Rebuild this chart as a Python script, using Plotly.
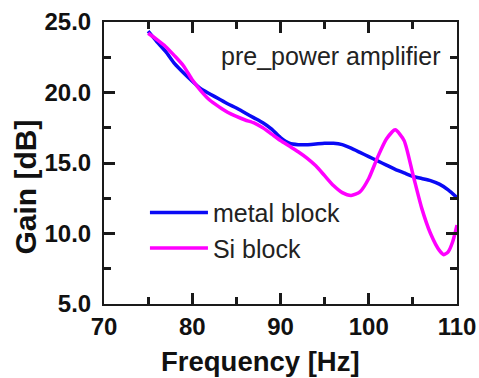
import plotly.graph_objects as go

freq_metal = [75, 76, 77, 78, 79, 80, 81, 82, 83, 84, 85, 86, 87, 88, 89, 90, 91, 92, 93, 94,
              95, 96, 97, 98, 99, 100, 101, 102, 103, 104, 105, 106, 107, 108, 109, 110]
gain_metal = [24.35, 23.6, 22.9, 22.05, 21.4, 20.8, 20.25, 19.9, 19.55, 19.2, 18.9, 18.55, 18.2,
              17.85, 17.4, 16.8, 16.4, 16.3, 16.3, 16.35, 16.4, 16.4, 16.3, 16.05, 15.75, 15.45,
              15.15, 14.85, 14.55, 14.3, 14.05, 13.9, 13.75, 13.5, 13.1, 12.55]

freq_si = [75, 76, 77, 78, 79, 80, 81, 82, 83, 84, 85, 86, 87, 88, 89, 90, 91, 92, 93, 94, 95,
           96, 97, 98, 99, 100, 101, 102, 103, 104, 105, 106, 107, 108, 108.5, 109, 109.5, 110]
gain_si = [24.2, 23.75, 23.25, 22.6, 21.9, 20.9, 20.1, 19.45, 19.0, 18.6, 18.3, 18.05, 17.85,
           17.5, 17.05, 16.6, 16.2, 15.8, 15.35, 14.8, 14.1, 13.4, 12.9, 12.7, 12.95, 13.9, 15.4,
           16.7, 17.35, 16.6, 14.2, 11.8, 10.0, 8.8, 8.5, 8.7, 9.4, 10.6]

x_ticks = [70, 80, 90, 100, 110]
y_ticks = [5, 10, 15, 20, 25]

FONT = "Arial, Liberation Sans, sans-serif"
INK = "#1a1a1a"
TXT = "#111"

fig = go.Figure()
fig.add_trace(go.Scatter(x=freq_metal, y=gain_metal, mode="lines", name="metal block",
                         line=dict(color="#0a0af5", width=3.5, shape="spline", smoothing=0.6)))
fig.add_trace(go.Scatter(x=freq_si, y=gain_si, mode="lines", name="Si block",
                         line=dict(color="#ff00ff", width=3.5, shape="spline", smoothing=0.6)))

fig.update_xaxes(
    range=[x_ticks[0], x_ticks[-1]], tickmode="array", tickvals=x_ticks, automargin=False,
    showline=True, linecolor=INK, linewidth=2, mirror="allticks",
    ticks="inside", ticklen=11, tickwidth=2.5, tickcolor=INK,
    showgrid=False, zeroline=False,
    tickfont=dict(family=FONT, size=24, color=TXT, weight="bold"),
    minor=dict(ticks="inside", tickvals=[75, 85, 95, 105], ticklen=7, tickwidth=2.5,
               tickcolor=INK, showgrid=False),
)
fig.update_yaxes(
    range=[y_ticks[0], y_ticks[-1]], tickmode="array", tickvals=y_ticks, tickformat=".1f",
    automargin=False, showline=True, linecolor=INK, linewidth=2, mirror="allticks",
    ticks="inside", ticklen=11, tickwidth=2.5, tickcolor=INK,
    showgrid=False, zeroline=False, ticklabelstandoff=6,
    tickfont=dict(family=FONT, size=24, color=TXT, weight="bold"),
    minor=dict(ticks="inside", tickvals=[7.5, 12.5, 17.5, 22.5], ticklen=7, tickwidth=2.5,
               tickcolor=INK, showgrid=False),
)

# axis titles
fig.add_annotation(x=0.442, y=-0.205, xref="paper", yref="paper", xanchor="center",
                   yanchor="middle", text="Frequency [Hz]", showarrow=False,
                   font=dict(family=FONT, size=27.5, color=TXT, weight="bold"))
fig.add_annotation(x=-0.222, y=0.415, xref="paper", yref="paper", xanchor="center",
                   yanchor="middle", text="Gain [dB]", textangle=-90, showarrow=False,
                   font=dict(family=FONT, size=30, color=TXT, weight="bold"))

fig.add_annotation(x=0.96, y=0.88, xref="paper", yref="paper", xanchor="right", yanchor="middle",
                   text="pre_power amplifier", showarrow=False,
                   font=dict(family=FONT, size=25, color="#222"))

fig.update_layout(
    width=479, height=378,
    margin=dict(l=104, r=22, t=22, b=74),
    paper_bgcolor="white", plot_bgcolor="white",
    legend=dict(x=0.116, y=0.405, xanchor="left", yanchor="top",
                bgcolor="rgba(0,0,0,0)", itemwidth=58,
                font=dict(family=FONT, size=25, color="#222"), tracegroupgap=0),
    showlegend=True,
)

fig.write_html("out.html")
